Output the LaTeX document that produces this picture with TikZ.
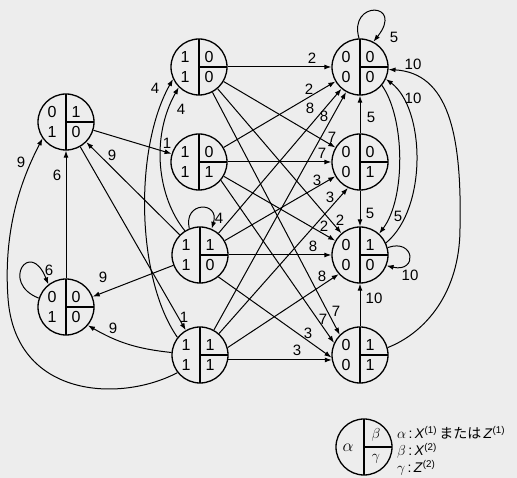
\documentclass[tikz,border=0pt]{standalone}
\usepackage{fontspec}
\setmainfont{Liberation Sans}
\newfontfamily\jpfont{Noto Sans CJK JP}
\usetikzlibrary{arrows.meta,calc}
\definecolor{paper}{RGB}{237,237,237}
\newcommand\digfont{\fontsize{16}{16}\selectfont}
\newcommand\lblfont{\fontsize{15}{15}\selectfont}
\newcommand\legfont{\fontsize{14}{14}\selectfont}
\newcommand\mystate[6]{%
  \node[st] (#1) at (#2) {};
  \node[dg] at ($(#1)+(-14,10)$) {#3};
  \node[dg] at ($(#1)+(-14,-10)$) {#4};
  \node[dg] at ($(#1)+(10,10)$) {#5};
  \node[dg] at ($(#1)+(10,-10)$) {#6};}
\begin{document}
\begin{tikzpicture}[x=1pt,y=1pt,
  st/.style={circle, draw, line width=1.3pt, minimum size=56pt, inner sep=0pt,
    path picture={
      \draw[line width=1.2pt] (path picture bounding box.north) -- (path picture bounding box.south);
      \draw[line width=1.2pt] (path picture bounding box.center) -- (path picture bounding box.east);}},
  dg/.style={font=\digfont, inner sep=0pt},
  lb/.style={font=\lblfont, inner sep=0pt},
  ar/.style={-{Latex[length=7pt,width=5pt]}, line width=1pt}]
\path[use as bounding box, fill=paper] (0,0) rectangle (517,478);

\mystate{A}{199,411}{1}{1}{0}{0}
\mystate{B}{66,356}{0}{1}{1}{0}
\mystate{C}{199,316}{1}{1}{0}{1}
\mystate{D}{200,223}{1}{1}{1}{0}
\mystate{E}{66,171}{0}{1}{0}{0}
\mystate{F}{200,123}{1}{1}{1}{1}
\mystate{G}{360,411}{0}{0}{0}{0}
\mystate{H}{360,316}{0}{0}{0}{1}
\mystate{I}{360,223}{0}{0}{1}{0}
\mystate{J}{360,123}{0}{0}{1}{1}

% left group to right group
\draw[ar] (A) -- (G) node[lb] at (312,420) {2};
\draw[ar] (A) -- (H) node[lb] at (332,341) {7};
\draw[ar] (A) -- (I) node[lb] at (340,258) {2};
\draw[ar] (A.-62) -- (J.135) node[lb] at (336,167) {7};
\draw[ar] (C) -- (G) node[lb] at (309,389) {2};
\draw[ar] (C) -- (H) node[lb] at (322,325) {7};
\draw[ar] (C) -- (I) node[lb] at (324,252) {2};
\draw[ar] (C.-40) -- (J.155) node[lb] at (323,159) {7};
\draw[ar] (D) -- (G) node[lb] at (310,370) {8};
\draw[ar] (D) -- (H) node[lb] at (317,298) {3};
\draw[ar] (D) -- (I) node[lb] at (313,232) {8};
\draw[ar] (D.-50) -- (J.185) node[lb] at (308,145) {3};
\draw[ar] (F) -- (G) node[lb] at (324,362) {8};
\draw[ar] (F) -- (H.245) node[lb] at (330,281) {3};
\draw[ar] (F.15) -- (I.222) node[lb] at (322,202) {8};
\draw[ar] (F.-10) -- (J.190) node[lb] at (297,128) {3};

% left side
\draw[ar] (F.142) .. controls (136,200) and (134,330) .. (A.205) node[lb] at (155,390) {4};
\draw[ar] (D.122) .. controls (158,280) and (150,340) .. (A.225) node[lb] at (181,369) {4};
\draw[ar] (B) -- (C) node[lb] at (167,335) {1};
\draw[ar] (D) -- (B) node[lb] at (112,323) {9};
\draw[ar] (E) -- (B) node[lb] at (57,303) {6};
\draw[ar] (F.218) .. controls (120,75) and (15,80) .. (8,180) .. controls (3,250) and (22,300) .. (B.215) node[lb] at (21,316) {9};
\draw[ar] (D.112) .. controls (183,277) and (220,277) .. (D.66) node[lb] at (219,260) {4};
\draw[ar] (E.162) .. controls (0,195) and (30,240) .. (E.128) node[lb] at (49,208) {6};
\draw[ar] (D) -- (E) node[lb] at (103,201) {9};
\draw[ar] (F.175) to[bend left=12] (E.320) node[lb] at (113,150) {9};
\draw[ar] (B) -- (F) node[lb] at (184,161) {1};

% right side
\draw[ar] (G.92) .. controls (348,478) and (405,476) .. (G.62) node[lb] at (394,441) {5};
\draw[ar] (H) -- (G) node[lb] at (371,361) {5};
\draw[ar] (H) -- (I) node[lb] at (370,265) {5};
\draw[ar] (J) -- (I) node[lb] at (374,180) {10};
\draw[ar] (I.15) .. controls (415,240) and (418,205) .. (I.-22) node[lb] at (410,203) {10};
\draw[ar] (G.-40) .. controls (405,360) and (406,280) .. (I.48) node[lb] at (398,262) {5};
\draw[ar] (I.25) .. controls (428,270) and (425,370) .. (G.-25) node[lb] at (413,380) {10};
\draw[ar] (J.15) .. controls (425,145) and (460,185) .. (460,250) .. controls (462,345) and (448,405) .. (G.-5) node[lb] at (413,414) {10};

% legend
\node[st] (L) at (364,31) {};
\node[font=\fontsize{17}{17}\selectfont, inner sep=0pt] (la) at (348,30) {$\alpha$};
\node[font=\legfont, inner sep=0pt] (lb) at (376,43) {$\beta$};
\node[font=\legfont, inner sep=0pt] (lg) at (376,19) {$\gamma$};
\node[font=\legfont, inner sep=0pt, anchor=base west] (t1) at (397,39)
  {$\alpha$\,:\,\textit{X}\textsuperscript{(1)}\,{\jpfont または}\,\textit{Z}\textsuperscript{(1)}};
\node[font=\legfont, inner sep=0pt, anchor=base west] (t2) at (397,22)
  {$\beta$\,:\,\textit{X}\textsuperscript{(2)}};
\node[font=\legfont, inner sep=0pt, anchor=base west] (t3) at (397,5)
  {$\gamma$\,:\,\textit{Z}\textsuperscript{(2)}};
\end{tikzpicture}
\end{document}
